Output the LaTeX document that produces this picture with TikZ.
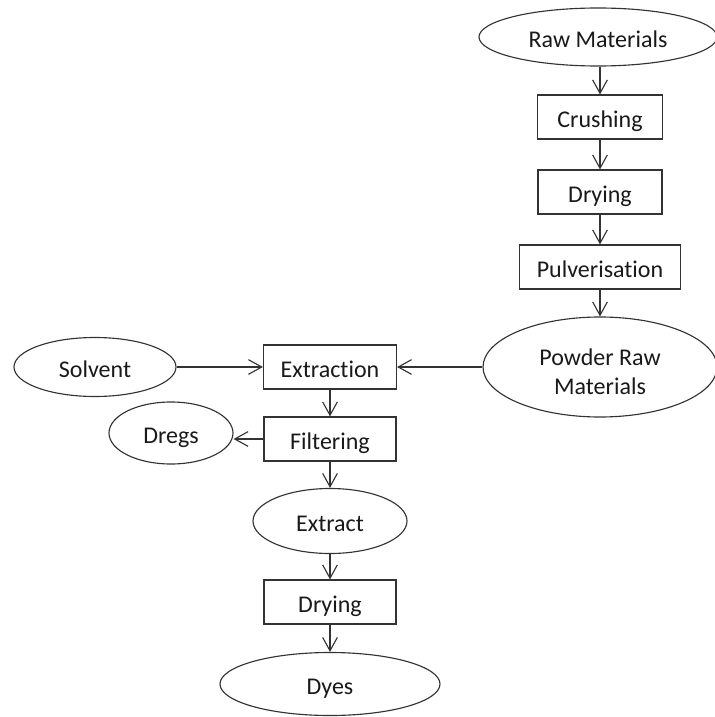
\documentclass[tikz,border=0pt]{standalone}
\usepackage{fontspec}
\setmainfont{Carlito}[Ligatures=NoCommon]
\usetikzlibrary{shapes.geometric,arrows.meta}
\begin{document}
\begin{tikzpicture}[x=0.75pt,y=-0.75pt,
  every node/.style={font=\fontsize{18}{21.5}\selectfont, text=black!90, inner sep=0pt, line width=0.85pt, draw=black!80},
  oneline/.style={text height=16pt, text depth=0.2pt},
  procbox/.style={rectangle, oneline, minimum width=#1*0.75pt, minimum height=44*0.75pt},
  oval/.style args={#1x#2}{ellipse, minimum width=#1*0.75pt, minimum height=#2*0.75pt, align=center},
  arr/.style={line width=0.85pt, draw=black!80, -{Straight Barb[length=10pt,width=11pt,line width=0.85pt]}}]
\useasboundingbox (0,0) rectangle (714,717);
\node[oval=238x58, oneline] (raw) at (598,37) {Raw Materials};
\node[procbox=125] (crush) at (600,117) {Crushing};
\node[procbox=124] (dry1) at (600,192) {Drying};
\node[procbox=161] (pulv) at (600,267) {Pulverisation};
\node[oval=234x100] (powder) at (600,367) {\rule{0pt}{19.5pt}Powder Raw\\Materials};
\node[procbox=133] (extr) at (330,367) {Extraction};
\node[oval=162x59, oneline] (solv) at (95,367) {Solvent};
\node[procbox=132] (filt) at (330,439) {Filtering};
\node[oval=124x62, oneline] (dregs) at (171,433) {Dregs};
\node[oval=154x65, oneline] (extract) at (330,521) {Extract};
\node[procbox=132] (dry2) at (330,602) {Drying};
\node[oval=220x63, oneline] (dyes) at (330,684) {Dyes};
\draw[arr] (raw.south -| crush.north) -- (crush.north);
\draw[arr] (crush) -- (dry1);
\draw[arr] (dry1) -- (pulv);
\draw[arr] (pulv) -- (powder);
\draw[arr] (powder.west) -- (extr.east);
\draw[arr] (solv.east) -- (extr.west);
\draw[arr] (extr) -- (filt);
\draw[arr] (filt.west) -- (filt.west -| dregs.east);
\draw[arr] (filt) -- (extract);
\draw[arr] (extract) -- (dry2);
\draw[arr] (dry2) -- (dyes);
\end{tikzpicture}
\end{document}
